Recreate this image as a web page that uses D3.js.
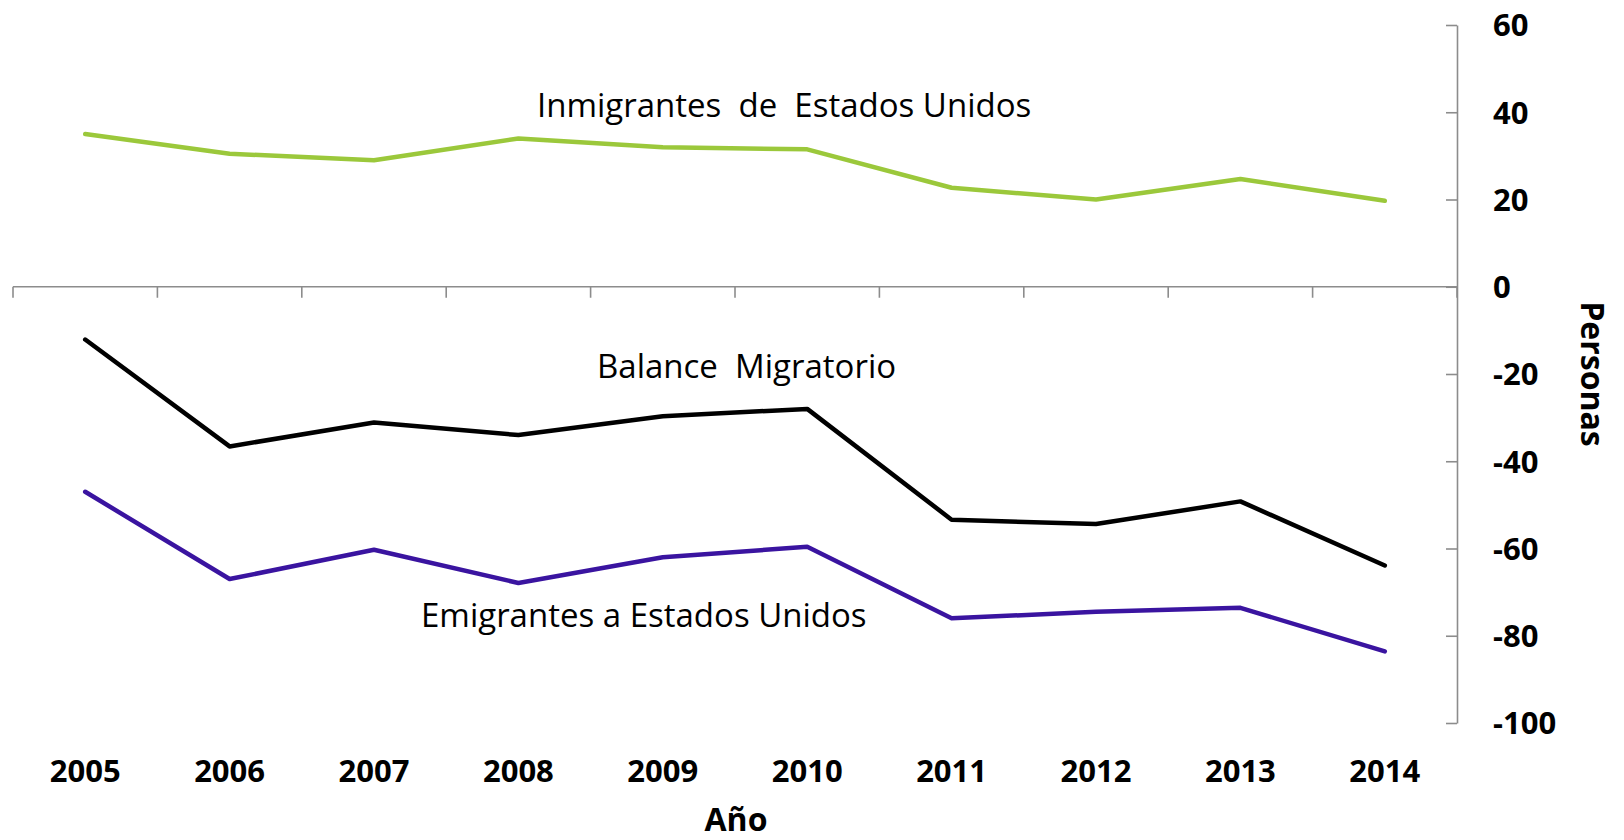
<!DOCTYPE html>
<head>
    <script src="https://d3js.org/d3.v7.min.js"></script>
    <style>
        body { margin: 0; background: #fff; }
        text { font-family: "Open Sans", sans-serif; }
    </style>
</head>
<body>
    <svg></svg>
</body>

<script>
    // Data
    var years = ['2005', '2006', '2007', '2008', '2009', '2010', '2011', '2012', '2013', '2014'];
    var inmigrantes = [35, 30.5, 29, 34, 32, 31.5, 22.7, 20, 24.7, 19.7];
    var balance = [-12.1, -36.6, -31.1, -34, -29.7, -28, -53.4, -54.4, -49.2, -63.9];
    var emigrantes = [-47, -67, -60.3, -67.9, -62, -59.6, -76, -74.5, -73.6, -83.6];
    var yTicks = [60, 40, 20, 0, -20, -40, -60, -80, -100];

    // Variables
    var width = 1624;
    var height = 840;

    var svg = d3.select('svg')
        .attr('width', width)
        .attr('height', height);

    var x = d3.scaleBand()
        .domain(years)
        .range([13, 1457]);

    var y = d3.scaleLinear()
        .domain([-100, 60])
        .range([723, 25]);

    // Right axis, ticks pointing in, labels outside (plain hyphen for minus)
    var yAxis = svg.append('g')
        .attr('transform', 'translate(1457,0)')
        .call(d3.axisLeft(y)
            .tickValues(yTicks)
            .tickFormat(function (d) { return String(d); })
            .tickSize(11)
            .tickSizeOuter(0));
    yAxis.select('.domain').attr('stroke', '#8c8c8c').attr('stroke-width', 1.6);
    yAxis.selectAll('.tick line').attr('stroke', '#8c8c8c').attr('stroke-width', 1.6);
    yAxis.selectAll('.tick text')
        .attr('x', 36)
        .attr('dy', '0.35em')
        .attr('text-anchor', 'start')
        .style('font-family', '"Open Sans", sans-serif')
        .style('font-size', '31px')
        .style('font-weight', 'bold')
        .attr('fill', '#000');

    // Horizontal axis at zero with ticks at category boundaries
    var bounds = years.map(function (d) { return x(d); }).concat([x.range()[1]]);
    var xAxis = svg.append('g');
    xAxis.append('line')
        .attr('x1', x.range()[0]).attr('x2', x.range()[1])
        .attr('y1', y(0)).attr('y2', y(0))
        .attr('stroke', '#8c8c8c').attr('stroke-width', 1.6);
    xAxis.selectAll('.xtick')
        .data(bounds)
        .enter().append('line')
        .attr('class', 'xtick')
        .attr('x1', function (d) { return d; }).attr('x2', function (d) { return d; })
        .attr('y1', y(0)).attr('y2', y(0) + 11)
        .attr('stroke', '#8c8c8c').attr('stroke-width', 1.6);

    // Year labels along the bottom
    svg.selectAll('.year')
        .data(years)
        .enter().append('text')
        .attr('class', 'year')
        .attr('x', function (d) { return x(d) + x.bandwidth() / 2; })
        .attr('y', 782)
        .attr('text-anchor', 'middle')
        .style('font-size', '31px')
        .style('font-weight', 'bold')
        .text(function (d) { return d; });

    // Axis titles
    svg.append('text')
        .attr('x', 736)
        .attr('y', 831)
        .attr('text-anchor', 'middle')
        .style('font-size', '32px')
        .style('font-weight', 'bold')
        .text('Año');

    svg.append('text')
        .attr('transform', 'translate(1581,' + y(-20) + ') rotate(90)')
        .attr('text-anchor', 'middle')
        .style('font-size', '32px')
        .style('font-weight', 'bold')
        .text('Personas');

    // Lines
    var line = d3.line()
        .x(function (d, i) { return x(years[i]) + x.bandwidth() / 2; })
        .y(function (d) { return y(d); });

    var series = [
        { values: inmigrantes, color: '#9bc83b' },
        { values: balance, color: '#000000' },
        { values: emigrantes, color: '#3a14a0' }
    ];

    svg.selectAll('.series')
        .data(series)
        .enter().append('path')
        .attr('class', 'series')
        .attr('d', function (d) { return line(d.values); })
        .attr('fill', 'none')
        .attr('stroke', function (d) { return d.color; })
        .attr('stroke-width', 4.5)
        .attr('stroke-linejoin', 'round')
        .attr('stroke-linecap', 'round');

    // Series labels
    var labels = [
        { text: 'Inmigrantes  de  Estados Unidos', x: 537, y: 117 },
        { text: 'Balance  Migratorio', x: 597, y: 378 },
        { text: 'Emigrantes a Estados Unidos', x: 421, y: 627 }
    ];

    svg.selectAll('.label')
        .data(labels)
        .enter().append('text')
        .attr('class', 'label')
        .attr('x', function (d) { return d.x; })
        .attr('y', function (d) { return d.y; })
        .style('font-size', '33px')
        .style('white-space', 'pre')
        .text(function (d) { return d.text; });
</script>
